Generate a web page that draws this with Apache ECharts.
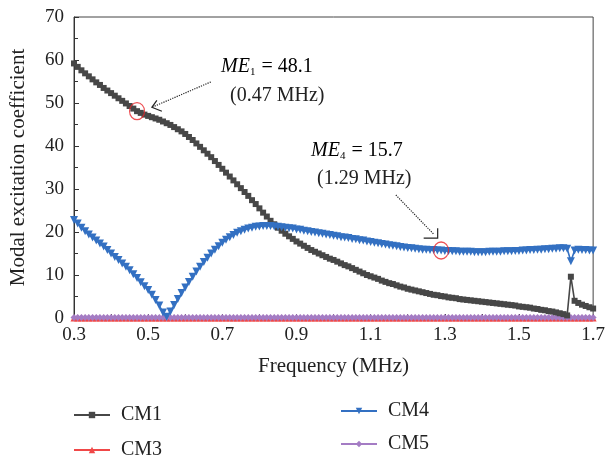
<!DOCTYPE html>
<html>
<head>
<meta charset="utf-8">
<script src="https://cdn.jsdelivr.net/npm/echarts@6/dist/echarts.min.js"></script>
<style>
  html, body { margin: 0; padding: 0; background: #fff; }
  #chart { width: 608px; height: 461px; }
</style>
</head>
<body>
<div id="chart"></div>
<script>
// 频率 (MHz)
const freq = [
  0.30, 0.31, 0.32, 0.33, 0.34, 0.35, 0.36, 0.37, 0.38, 0.39,
  0.40, 0.41, 0.42, 0.43, 0.44, 0.45, 0.46, 0.47, 0.48, 0.49,
  0.50, 0.51, 0.52, 0.53, 0.54, 0.55, 0.56, 0.57, 0.58, 0.59,
  0.60, 0.61, 0.62, 0.63, 0.64, 0.65, 0.66, 0.67, 0.68, 0.69,
  0.70, 0.71, 0.72, 0.73, 0.74, 0.75, 0.76, 0.77, 0.78, 0.79,
  0.80, 0.81, 0.82, 0.83, 0.84, 0.85, 0.86, 0.87, 0.88, 0.89,
  0.90, 0.91, 0.92, 0.93, 0.94, 0.95, 0.96, 0.97, 0.98, 0.99,
  1.00, 1.01, 1.02, 1.03, 1.04, 1.05, 1.06, 1.07, 1.08, 1.09,
  1.10, 1.11, 1.12, 1.13, 1.14, 1.15, 1.16, 1.17, 1.18, 1.19,
  1.20, 1.21, 1.22, 1.23, 1.24, 1.25, 1.26, 1.27, 1.28, 1.29,
  1.30, 1.31, 1.32, 1.33, 1.34, 1.35, 1.36, 1.37, 1.38, 1.39,
  1.40, 1.41, 1.42, 1.43, 1.44, 1.45, 1.46, 1.47, 1.48, 1.49,
  1.50, 1.51, 1.52, 1.53, 1.54, 1.55, 1.56, 1.57, 1.58, 1.59,
  1.60, 1.61, 1.62, 1.63, 1.64, 1.65, 1.66, 1.67, 1.68, 1.69,
  1.70
];

const cm1 = [
  59.2, 58.4, 57.6, 56.9, 56.2, 55.5, 54.8, 54.2, 53.5, 52.9,
  52.3, 51.7, 51.1, 50.5, 49.9, 49.3, 48.7, 48.1, 47.7, 47.3,
  47.0, 46.7, 46.4, 46.1, 45.7, 45.3, 44.9, 44.4, 43.9, 43.4,
  42.8, 42.1, 41.4, 40.6, 39.8, 39.0, 38.2, 37.4, 36.5, 35.6,
  34.7, 33.8, 32.9, 32.0, 31.1, 30.2, 29.3, 28.4, 27.4, 26.5,
  25.5, 24.5, 23.6, 22.6, 21.8, 21.0, 20.3, 19.6, 19.0, 18.4,
  17.8, 17.3, 16.8, 16.3, 15.8, 15.4, 15.0, 14.6, 14.2, 13.8,
  13.5, 13.1, 12.7, 12.3, 12.0, 11.6, 11.2, 10.8, 10.4, 10.0,
  9.7, 9.4, 9.1, 8.7, 8.4, 8.1, 7.9, 7.6, 7.3, 7.1,
  6.8, 6.6, 6.4, 6.2, 6.0, 5.8, 5.6, 5.4, 5.3, 5.1,
  5.0, 4.8, 4.7, 4.6, 4.4, 4.3, 4.2, 4.1, 4.0, 3.9,
  3.8, 3.7, 3.6, 3.5, 3.4, 3.3, 3.2, 3.1, 3.0, 2.9,
  2.7, 2.6, 2.5, 2.4, 2.2, 2.1, 1.9, 1.8, 1.6, 1.5,
  1.3, 1.1, 0.9, 0.6, 9.6, 4.0, 3.5, 3.1, 2.8, 2.5,
  2.2
];

const cm3 = [
  0, 0, 0, 0, 0, 0, 0, 0, 0, 0,
  0, 0, 0, 0, 0, 0, 0, 0, 0, 0,
  0, 0, 0, 0, 0, 0, 0, 0, 0, 0,
  0, 0, 0, 0, 0, 0, 0, 0, 0, 0,
  0, 0, 0, 0, 0, 0, 0, 0, 0, 0,
  0, 0, 0, 0, 0, 0, 0, 0, 0, 0,
  0, 0, 0, 0, 0, 0, 0, 0, 0, 0,
  0, 0, 0, 0, 0, 0, 0, 0, 0, 0,
  0, 0, 0, 0, 0, 0, 0, 0, 0, 0,
  0, 0, 0, 0, 0, 0, 0, 0, 0, 0,
  0, 0, 0, 0, 0, 0, 0, 0, 0, 0,
  0, 0, 0, 0, 0, 0, 0, 0, 0, 0,
  0, 0, 0, 0, 0, 0, 0, 0, 0, 0,
  0, 0, 0, 0, 0, 0, 0, 0, 0, 0,
  0
];

const cm4 = [
  22.8, 22.0, 21.0, 20.2, 19.4, 18.7, 18.0, 17.3, 16.6, 15.8,
  15.0, 14.2, 13.5, 12.7, 11.9, 11.1, 10.2, 9.3, 8.3, 7.4,
  6.5, 5.4, 4.2, 2.9, 1.3, 0.3, 1.5, 3.0, 4.4, 5.8,
  7.1, 8.4, 9.6, 10.8, 11.9, 13.0, 14.0, 15.0, 15.9, 16.7,
  17.5, 18.2, 18.8, 19.3, 19.8, 20.2, 20.5, 20.8, 21.0, 21.2,
  21.3, 21.4, 21.4, 21.4, 21.3, 21.2, 21.1, 21.0, 20.9, 20.8,
  20.6, 20.5, 20.3, 20.2, 20.0, 19.9, 19.7, 19.6, 19.4, 19.3,
  19.1, 19.0, 18.8, 18.7, 18.6, 18.4, 18.3, 18.1, 18.0, 17.8,
  17.7, 17.5, 17.4, 17.2, 17.1, 16.9, 16.8, 16.7, 16.5, 16.4,
  16.3, 16.2, 16.1, 16.0, 15.9, 15.9, 15.8, 15.8, 15.7, 15.7,
  15.6, 15.6, 15.5, 15.5, 15.4, 15.4, 15.4, 15.4, 15.3, 15.3,
  15.3, 15.3, 15.4, 15.4, 15.4, 15.4, 15.5, 15.5, 15.5, 15.6,
  15.6, 15.7, 15.7, 15.8, 15.8, 15.9, 15.9, 16.0, 16.0, 16.1,
  16.1, 16.2, 16.2, 16.1, 13.2, 15.7, 15.9, 15.8, 15.8, 15.7,
  15.7
];

const cm5 = [
  0.1, 0.1, 0.1, 0.1, 0.1, 0.1, 0.1, 0.1, 0.1, 0.1,
  0.1, 0.1, 0.1, 0.1, 0.1, 0.1, 0.1, 0.1, 0.1, 0.1,
  0.1, 0.1, 0.1, 0.1, 0.1, 0.1, 0.1, 0.1, 0.1, 0.1,
  0.1, 0.1, 0.1, 0.1, 0.1, 0.1, 0.1, 0.1, 0.1, 0.1,
  0.1, 0.1, 0.1, 0.1, 0.1, 0.1, 0.1, 0.1, 0.1, 0.1,
  0.1, 0.1, 0.1, 0.1, 0.1, 0.1, 0.1, 0.1, 0.1, 0.1,
  0.1, 0.1, 0.1, 0.1, 0.1, 0.1, 0.1, 0.1, 0.1, 0.1,
  0.1, 0.1, 0.1, 0.1, 0.1, 0.1, 0.1, 0.1, 0.1, 0.1,
  0.1, 0.1, 0.1, 0.1, 0.1, 0.1, 0.1, 0.1, 0.1, 0.1,
  0.1, 0.1, 0.1, 0.1, 0.1, 0.1, 0.1, 0.1, 0.1, 0.1,
  0.1, 0.1, 0.1, 0.1, 0.1, 0.1, 0.1, 0.1, 0.1, 0.1,
  0.1, 0.1, 0.1, 0.1, 0.1, 0.1, 0.1, 0.1, 0.1, 0.1,
  0.1, 0.1, 0.1, 0.1, 0.1, 0.1, 0.1, 0.1, 0.1, 0.1,
  0.1, 0.1, 0.1, 0.1, 0.1, 0.1, 0.1, 0.1, 0.1, 0.1,
  0.1
];

// 标注点: [频率, 值]
const markedPoints = [[0.47, 48.1], [1.29, 15.7]];
// 虚线箭头: 起点 -> 终点 (数据坐标)
const arrowLines = [
  [[0.669, 54.9], [0.51, 49.0]],
  [[1.168, 28.6], [1.27, 19.5]]
];

const FONT = "Liberation Serif";
const pairs = (ys) => freq.map((f, i) => [f, ys[i]]);

const chart = echarts.init(document.getElementById("chart"));

const lineSeries = (name, ys, color, symbol, size, z) => ({
  name: name,
  type: "line",
  data: pairs(ys),
  symbol: symbol,
  symbolSize: size,
  showSymbol: true,
  lineStyle: { color: color, width: 1.6 },
  itemStyle: { color: color },
  z: z,
  animation: false,
});

// 图例: 每项单独放置, 两列
const legendItem = (name, left, top) => ({
  data: [name],
  left: left,
  top: top,
  itemWidth: 36,
  itemHeight: 8,
  textStyle: { fontFamily: FONT, fontSize: 20, color: "#222", padding: [0, 0, 0, 6] },
});

const option = {
  animation: false,
  grid: {
    left: 72,
    right: 12,
    top: 17,
    bottom: 143,
    show: true,
    borderColor: "#444",
    borderWidth: 1,
  },
  legend: [
    legendItem("CM1", 68, 400),
    legendItem("CM3", 68, 435),
    legendItem("CM4", 335, 396),
    legendItem("CM5", 335, 429),
  ],
  xAxis: {
    type: "value",
    min: 0.3,
    max: 1.7,
    interval: 0.1,
    name: "Frequency (MHz)",
    nameLocation: "middle",
    nameGap: 38,
    nameTextStyle: { fontFamily: FONT, fontSize: 21, color: "#222" },
    axisLine: { show: true, lineStyle: { color: "#333" } },
    axisTick: { show: true, inside: true, length: 4, lineStyle: { color: "#333" } },
    axisLabel: {
      fontFamily: FONT,
      fontSize: 19,
      color: "#222",
      margin: 8,
      formatter: function (v) {
        const k = Math.round(v * 10);
        return k % 2 === 1 ? v.toFixed(1) : "";
      },
    },
    splitLine: { show: false },
  },
  yAxis: {
    type: "value",
    min: 0,
    max: 70,
    interval: 10,
    name: "Modal excitation coefficient",
    nameLocation: "middle",
    nameGap: 45,
    nameTextStyle: { fontFamily: FONT, fontSize: 21, color: "#222" },
    axisLine: { show: true, lineStyle: { color: "#333" } },
    axisTick: { show: true, inside: true, length: 5, lineStyle: { color: "#333" } },
    minorTick: { show: true, splitNumber: 2, length: 4, lineStyle: { color: "#333" } },
    axisLabel: { fontFamily: FONT, fontSize: 19, color: "#222", margin: 10 },
    splitLine: { show: false },
  },
  series: [
    lineSeries("CM3", cm3, "#f04848", "triangle", 7, 2),
    lineSeries("CM5", cm5, "#a47cc4", "diamond", 7, 3),
    lineSeries("CM1", cm1, "#474747", "rect", 6, 4),
    lineSeries("CM4", cm4, "#3370c2", "path://M0,0 L10,0 L5,9 Z", 8, 5),
    {
      name: "mark",
      type: "scatter",
      data: markedPoints,
      symbol: "circle",
      symbolSize: [15, 17],
      itemStyle: { color: "rgba(0,0,0,0)", borderColor: "#e8262a", borderWidth: 1.2 },
      z: 10,
      silent: true,
      markLine: {
        silent: true,
        symbol: "none",
        label: { show: false },
        lineStyle: { type: "dotted", color: "#222", width: 1.2 },
        data: arrowLines.map((l) => [{ coord: l[0] }, { coord: l[1] }]),
      },
    },
  ],
};
option && chart.setOption(option);

// 标注文字与箭头
const p1 = chart.convertToPixel({ gridIndex: 0 }, arrowLines[0][1]);
const p2 = chart.convertToPixel({ gridIndex: 0 }, arrowLines[1][1]);
const rich = {
  it: { fontFamily: FONT, fontSize: 20, fontStyle: "italic", color: "#222" },
  sub: { fontFamily: FONT, fontSize: 11, color: "#222", verticalAlign: "bottom", padding: [11, 1, 0, 0] },
  n: { fontFamily: FONT, fontSize: 20, color: "#222" },
};
chart.setOption({
  graphic: [
    { type: "text", left: 221, top: 57, style: { text: "{it|ME}{sub|1}{n| = 48.1}", rich: rich } },
    { type: "text", left: 230, top: 86, style: { text: "(0.47 MHz)", fontFamily: FONT, fontSize: 20, fill: "#222" } },
    { type: "text", left: 311, top: 141, style: { text: "{it|ME}{sub|4}{n| = 15.7}", rich: rich } },
    { type: "text", left: 317, top: 169, style: { text: "(1.29 MHz)", fontFamily: FONT, fontSize: 20, fill: "#222" } },
    {
      type: "polyline",
      shape: { points: [[p1[0] + 5, p1[1] - 7], [p1[0], p1[1]], [p1[0] + 10, p1[1] + 4]] },
      style: { stroke: "#222", lineWidth: 1.2, fill: null },
      z: 20,
    },
    {
      type: "polyline",
      shape: { points: [[p2[0] - 10, p2[1] + 4], [p2[0] + 4, p2[1] + 4], [p2[0] + 4, p2[1] - 6]] },
      style: { stroke: "#222", lineWidth: 1.2, fill: null },
      z: 20,
    },
  ],
});
window.addEventListener("resize", function () {
  chart.resize();
});
</script>
</body>
</html>
